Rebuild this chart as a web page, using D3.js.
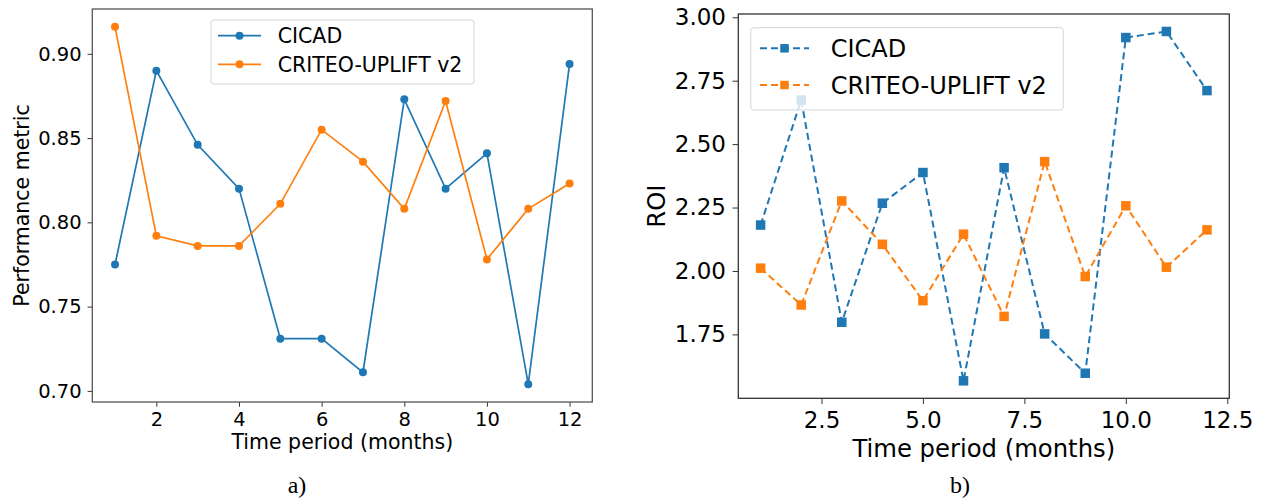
<!DOCTYPE html>
<html>
<head>
<meta charset="utf-8">
<script src="https://cdn.jsdelivr.net/npm/d3@7"></script>
<style>
  body { margin: 0; background: #fff; }
  svg { display: block; }
  text { font-family: "DejaVu Sans", sans-serif; fill: #000; }
  .caption { font-family: "Liberation Serif", "Times New Roman", serif; }
</style>
</head>
<body>
<script>
// months on the x axis (same for both panels)
var months = [1, 2, 3, 4, 5, 6, 7, 8, 9, 10, 11, 12];

// panel a) performance metric
var perfCicad  = [0.775, 0.890, 0.846, 0.820, 0.731, 0.731, 0.711, 0.873, 0.820, 0.841, 0.704, 0.894];
var perfCriteo = [0.916, 0.792, 0.786, 0.786, 0.811, 0.855, 0.836, 0.808, 0.872, 0.778, 0.808, 0.823];

// panel b) ROI
var roiCicad  = [2.181, 2.674, 1.798, 2.267, 2.388, 1.567, 2.407, 1.752, 1.597, 2.920, 2.944, 2.711];
var roiCriteo = [2.011, 1.866, 2.276, 2.105, 1.883, 2.145, 1.821, 2.431, 1.978, 2.257, 2.015, 2.162];

// tick labels
var perfXTicks = [2, 4, 6, 8, 10, 12];
var perfYTicks = [0.70, 0.75, 0.80, 0.85, 0.90];
var roiXTicks = [2.5, 5.0, 7.5, 10.0, 12.5];
var roiYTicks = [1.75, 2.00, 2.25, 2.50, 2.75, 3.00];

var seriesNames = ["CICAD", "CRITEO-UPLIFT v2"];
var colors = ["#1f77b4", "#ff7f0e"];

var svg = d3.select("body")
            .append("svg")
            .attr("width", 1263)
            .attr("height", 500);

// matplotlib style 5% margins around the data
function padded(vals) {
  var ext = d3.extent(vals);
  var m = (ext[1] - ext[0]) * 0.05;
  return [ext[0] - m, ext[1] + m];
}

function drawPanel(p) {
  var xScale = d3.scaleLinear()
                 .domain(padded(months))
                 .range([p.left, p.right]);
  var yScale = d3.scaleLinear()
                 .domain(padded(p.series[0].concat(p.series[1])))
                 .range([p.bottom, p.top]);

  var g = svg.append("g");

  // lines and markers
  p.series.forEach(function(vals, i) {
    var pts = months.map(function(m, k) { return [m, vals[k]]; });
    var line = d3.line()
                 .x(function(d) { return xScale(d[0]); })
                 .y(function(d) { return yScale(d[1]); });
    g.append("path")
     .datum(pts)
     .attr("d", line)
     .attr("fill", "none")
     .attr("stroke", colors[i])
     .attr("stroke-width", p.lineWidth)
     .attr("stroke-dasharray", p.dash);

    if (p.marker === "circle") {
      g.selectAll(".dot" + i)
       .data(pts)
       .enter()
       .append("circle")
       .attr("cx", function(d) { return xScale(d[0]); })
       .attr("cy", function(d) { return yScale(d[1]); })
       .attr("r", p.markerSize / 2)
       .attr("fill", colors[i]);
    } else {
      g.selectAll(".sq" + i)
       .data(pts)
       .enter()
       .append("rect")
       .attr("x", function(d) { return xScale(d[0]) - p.markerSize / 2; })
       .attr("y", function(d) { return yScale(d[1]) - p.markerSize / 2; })
       .attr("width", p.markerSize)
       .attr("height", p.markerSize)
       .attr("fill", colors[i]);
    }
  });

  // axes
  var xAxis = d3.axisBottom(xScale)
                .tickValues(p.xTicks)
                .tickFormat(d3.format(p.xFormat))
                .tickSizeInner(p.tickLen)
                .tickSizeOuter(0)
                .tickPadding(p.xPad);
  var yAxis = d3.axisLeft(yScale)
                .tickValues(p.yTicks)
                .tickFormat(d3.format(".2f"))
                .tickSizeInner(p.tickLen)
                .tickSizeOuter(0)
                .tickPadding(p.yPad);

  var xg = svg.append("g")
              .attr("transform", "translate(0," + p.bottom + ")")
              .call(xAxis);
  var yg = svg.append("g")
              .attr("transform", "translate(" + p.left + ",0)")
              .call(yAxis);
  [xg, yg].forEach(function(a) {
    a.select(".domain").remove();
    a.selectAll("line").attr("stroke", "#333").attr("stroke-width", 1);
    a.selectAll("text")
     .attr("font-size", p.tickFont + "px")
     .attr("font-family", "DejaVu Sans")
     .attr("fill", "#000");
  });

  // axes frame
  svg.append("rect")
     .attr("x", p.left)
     .attr("y", p.top)
     .attr("width", p.right - p.left)
     .attr("height", p.bottom - p.top)
     .attr("fill", "none")
     .attr("stroke", p.frame)
     .attr("stroke-width", 1.3);

  // axis labels
  svg.append("text")
     .attr("x", (p.left + p.right) / 2)
     .attr("y", p.xLabelY)
     .attr("text-anchor", "middle")
     .attr("font-size", p.labelFont + "px")
     .text("Time period (months)");

  svg.append("text")
     .attr("transform", "translate(" + p.yLabelX + "," + (p.top + p.bottom) / 2 + ") rotate(-90)")
     .attr("text-anchor", "middle")
     .attr("font-size", p.labelFont + "px")
     .text(p.yLabel);

  // legend (semi transparent white box like matplotlib)
  var lg = svg.append("g");
  lg.append("rect")
    .attr("x", p.legend.x)
    .attr("y", p.legend.y)
    .attr("width", p.legend.w)
    .attr("height", p.legend.h)
    .attr("rx", 3)
    .attr("fill", "#fff")
    .attr("fill-opacity", 0.8)
    .attr("stroke", "#d6d6d6")
    .attr("stroke-width", 1);

  seriesNames.forEach(function(name, i) {
    var ry = p.legend.rows[i];
    lg.append("line")
      .attr("x1", p.legend.lineX[0])
      .attr("x2", p.legend.lineX[1])
      .attr("y1", ry)
      .attr("y2", ry)
      .attr("stroke", colors[i])
      .attr("stroke-width", p.lineWidth)
      .attr("stroke-dasharray", p.dash);
    var mx = (p.legend.lineX[0] + p.legend.lineX[1]) / 2;
    if (p.marker === "circle") {
      lg.append("circle")
        .attr("cx", mx).attr("cy", ry)
        .attr("r", p.markerSize / 2)
        .attr("fill", colors[i]);
    } else {
      lg.append("rect")
        .attr("x", mx - p.legendMarker / 2).attr("y", ry - p.legendMarker / 2)
        .attr("width", p.legendMarker).attr("height", p.legendMarker)
        .attr("fill", colors[i]);
    }
    lg.append("text")
      .attr("x", p.legend.textX)
      .attr("y", ry)
      .attr("dy", "0.36em")
      .attr("font-size", p.legendFont + "px")
      .text(name);
  });

  // subplot caption
  svg.append("text")
     .attr("class", "caption")
     .attr("x", p.captionX)
     .attr("y", 493)
     .attr("text-anchor", "middle")
     .attr("font-size", "24px")
     .text(p.caption);
}

// panel a)
drawPanel({
  series: [perfCicad, perfCriteo],
  left: 92.3, right: 592.3, top: 9, bottom: 402,
  xTicks: perfXTicks, yTicks: perfYTicks, xFormat: "d",
  tickLen: 4.7, xPad: 5, yPad: 6,
  tickFont: 19.5, labelFont: 20.5, legendFont: 20.5,
  lineWidth: 1.7, dash: null, marker: "circle", markerSize: 8, legendMarker: 8,
  frame: "#555",
  xLabelY: 449, yLabelX: 28.5, yLabel: "Performance metric",
  legend: { x: 211, y: 20, w: 263, h: 64, rows: [35.7, 64.3], lineX: [218, 261], textX: 277.7 },
  caption: "a)", captionX: 297
});

// panel b)
drawPanel({
  series: [roiCicad, roiCriteo],
  left: 738.3, right: 1229.3, top: 14, bottom: 398.3,
  xTicks: roiXTicks, yTicks: roiYTicks, xFormat: ".1f",
  tickLen: 5.7, xPad: 7.7, yPad: 6.6,
  tickFont: 23, labelFont: 24.3, legendFont: 24,
  lineWidth: 2, dash: "7,4", marker: "square", markerSize: 9.5, legendMarker: 8.5,
  frame: "#333",
  xLabelY: 457, yLabelX: 665, yLabel: "ROI",
  legend: { x: 750.7, y: 27.7, w: 312.6, h: 82.3, rows: [48.3, 85], lineX: [760, 809], textX: 830.7 },
  caption: "b)", captionX: 960
});
</script>
</body>
</html>
